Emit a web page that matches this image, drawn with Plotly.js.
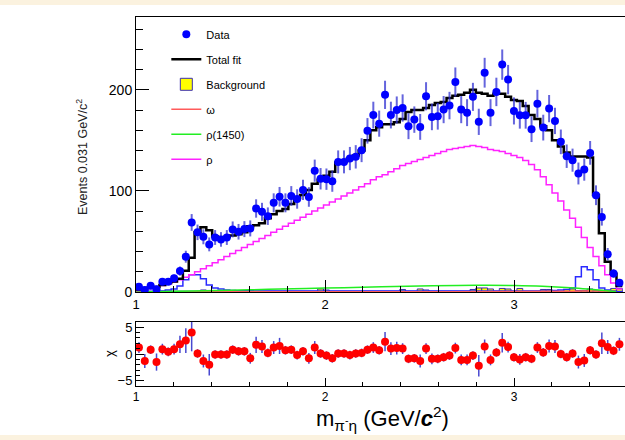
<!DOCTYPE html>
<html>
<head>
<meta charset="utf-8">
<script src="https://cdn.plot.ly/plotly-3.0.1.min.js"></script>
<style>html,body{margin:0;padding:0;background:#fff;}#chart{width:625px;height:440px;}</style>
</head>
<body>
<div id="chart"></div>
<script>
// Binning of the pi- eta mass histogram (GeV/c^2)
const binLow = 1.0;
const binWidth = 0.031;

// Data (events per bin)
const dataVals = [5.3, 2, 6.3, 2.6, 10.2, 10.2, 13.5, 20.7, 34.9, 68.8,
  59, 54.6, 47.1, 53.9, 52, 53.9, 61.9, 59.6, 62.2, 62.9,
  82.6, 79.3, 75, 88.2, 94.2, 88.2, 95, 92, 101, 94,
  120, 112, 111.6, 109.6, 128.7, 128.7, 132, 133.7, 140.3, 159.4,
  175, 166.5, 195, 175, 180, 182, 164, 170.5, 163.3, 193.6,
  173.2, 173.8, 180.4, 184.4, 207.7, 180.4, 177.4, 193, 168.3, 216.9,
  177.4, 197.9, 224.9, 210.1, 179.1, 174.8, 174.8, 161, 186.3, 162.6,
  181.4, 169.2, 148.5, 134.3, 130.4, 117.2, 121.1, 137.6, 95.7, 74.3,
  37.4, 18.3, 9.1];

// Total fit
const fitVals = [2.5, 4, 4.5, 5, 7, 9, 10.5, 13, 21, 34,
  59, 64, 61, 55, 53, 54.5, 56, 57, 59, 65,
  66, 68, 73, 77, 80, 82, 87, 93, 96, 101,
  107, 111, 115, 119, 128, 129, 132, 135, 140, 150,
  160, 163, 166, 166, 168, 171, 178, 180, 180, 182,
  185, 187, 188, 192, 194, 195, 197, 200, 197, 196,
  194, 196, 196, 193, 190, 189, 184, 175, 171, 164,
  160, 150, 144, 138, 134, 134, 134, 133, 96, 58,
  30, 18, 6];

// rho component
const rhoVals = [1.5, 2.5, 3.5, 5, 6.5, 8, 10, 12, 14.5, 17,
  20, 23, 26, 29, 32, 35, 38, 41, 44, 47,
  50, 53, 56, 59, 62, 65, 68, 71, 74, 77,
  80, 83, 86, 89, 92, 95, 98, 101, 104, 107,
  111, 114, 116, 119, 122, 125, 127, 129, 131, 133,
  135, 137, 139, 141, 142, 143, 144, 145, 144, 143,
  141, 140, 139, 137, 135, 133, 130, 126, 121, 114,
  106, 98, 90, 81, 73, 64, 54, 44, 35, 26,
  17, 9, 3];

// additional (blue) component, not in legend
const blueVals = [0.5, 0.5, 0.5, 0.8, 1, 2, 3, 6, 12, 17,
  17, 13, 7, 4, 3, 2, 1.5, 1.2, 1.2, 1.2,
  1.1, 1.1, 1.1, 1.1, 1, 1, 1, 1, 1, 1,
  1, 1, 1, 1, 1, 1, 1, 1, 1, 1,
  1, 1, 1, 1, 1, 1, 1, 1, 1, 1,
  1, 1, 1, 1, 1, 1, 1, 1, 1, 1,
  1, 1, 1, 1, 1, 1, 1, 1, 1, 1,
  1, 1.5, 2, 2.5, 4, 15, 25, 22, 12, 4,
  2, 1, 0.5];

// Background
const bkgVals = [0.8, 0.8, 0.8, 0.8, 0.8, 0.8, 0.8, 0.8, 0.8, 0.8,
  0.8, 2, 0.8, 0.8, 0.8, 0.8, 0.8, 0.8, 0.8, 0.8,
  0.8, 0.8, 0.8, 0.8, 0.8, 0.8, 0.8, 0.8, 0.8, 0.8,
  0.8, 3, 2, 0.8, 0.8, 0.8, 0.8, 0.8, 0.8, 0.8,
  0.8, 0.8, 0.8, 0.8, 0.8, 2.5, 0.8, 0.8, 3, 2,
  0.8, 0.8, 0.8, 0.8, 0.8, 0.8, 0.8, 2.5, 4, 4,
  3, 0.8, 3.5, 3, 0.8, 3.5, 0.8, 0.8, 0.8, 2.5,
  2.5, 0.8, 0.8, 2.5, 3, 1.5, 1.5, 3, 1.5, 1.5,
  1.5, 3.5, 3.5];

// rho(1450) curve (read points)
const rho1450X = [1.0, 1.15, 1.3, 1.5, 1.7, 1.9, 2.1, 2.3, 2.5, 2.7, 2.85, 3.0, 3.15, 3.3, 3.4, 3.48, 3.54];
const rho1450Y = [0.1, 0.5, 1.0, 1.8, 2.6, 3.4, 4.3, 5.1, 5.9, 6.5, 6.7, 6.5, 5.8, 4.3, 2.8, 1.4, 0.3];

// omega curve (read points)
const omegaX = [1.0, 1.5, 2.0, 2.5, 3.0, 3.3, 3.45, 3.54];
const omegaY = [0.2, 0.2, 0.3, 0.3, 0.4, 0.7, 1.0, 0.4];

// pull (chi) values and their error bars
const chiVals = [1.2, -1.3, 0.8, -1.5, 0.9, 0.4, 0.9, 1.8, 2.5, 4.0,
  0.1, -1.3, -2.0, -0.1, -0.1, -0.1, 0.8, 0.5, 0.5, -0.8,
  1.7, 1.4, 0.2, 1.2, 1.5, 0.7, 0.8, -0.2, 0.5, -0.8,
  1.2, 0.1, -0.3, -0.8, 0.1, 0.1, -0.2, 0.1, 0.2, 0.8,
  1.2, 0.7, 2.3, 1.0, 1.1, 1.0, -0.9, -0.8, -1.3, 1.0,
  -0.9, -0.9, -0.6, -0.3, 1.1, -1.1, -1.1, -0.3, -2.2, 1.4,
  -1.1, 0.3, 2.1, 1.3, -0.6, -1.0, -0.6, -0.9, 1.2, 0.3,
  1.5, 1.4, 0.0, -0.6, 0.1, -1.5, -1.2, 0.7, -0.1, 2.0,
  1.3, 0.6, 1.8];
const chiErr = [1.0, 1.3, 0.8, 1.6, 1.0, 0.8, 1.0, 1.6, 2.3, 3.5,
  0.8, 1.2, 2.0, 0.8, 0.8, 0.8, 0.8, 0.8, 0.8, 1.0,
  1.5, 1.2, 0.8, 1.2, 1.5, 0.8, 0.8, 0.8, 0.8, 1.0,
  1.2, 0.8, 0.8, 0.8, 0.8, 0.8, 0.8, 0.8, 0.8, 0.8,
  1.0, 0.8, 1.8, 1.2, 1.2, 1.0, 0.8, 0.8, 1.2, 1.0,
  1.0, 0.8, 0.8, 0.8, 1.0, 1.0, 1.0, 0.8, 2.0, 1.3,
  1.0, 0.8, 1.8, 1.0, 0.8, 1.0, 0.8, 0.8, 1.0, 0.8,
  1.2, 1.2, 0.8, 0.8, 0.8, 1.2, 1.2, 0.8, 0.8, 2.0,
  1.3, 0.8, 1.2];

const xTickVals = [1, 2, 3];
const xTickText = ['1', '2', '3'];

// bin geometry
const nBins = dataVals.length;
const centers = dataVals.map((_, i) => binLow + binWidth * (i + 0.5));
const edges = [];
for (let i = 0; i <= nBins; i++) edges.push(binLow + binWidth * i);
const stepY = v => v.concat([v[v.length - 1]]);

const FONT = 'Liberation Sans, Arial, Helvetica, sans-serif';

const traces = [
  {x: centers, y: bkgVals, type: 'bar', width: binWidth, marker: {color: '#ffff00', line: {color: '#3b2fb0', width: 1}},
   name: 'Background', legendgroup: 'g3', legendrank: 3, xaxis: 'x', yaxis: 'y'},
  {x: edges, y: stepY(blueVals), type: 'scatter', mode: 'lines', line: {shape: 'hv', color: '#2a2aff', width: 1.5},
   showlegend: false, xaxis: 'x', yaxis: 'y'},
  {x: omegaX, y: omegaY, type: 'scatter', mode: 'lines', line: {color: '#ff5a5a', width: 1.5, shape: 'spline'},
   name: 'ω', legendgroup: 'g4', legendrank: 4, xaxis: 'x', yaxis: 'y'},
  {x: rho1450X, y: rho1450Y, type: 'scatter', mode: 'lines', line: {color: '#22ee22', width: 1.5, shape: 'spline'},
   name: 'ρ(1450)', legendgroup: 'g5', legendrank: 5, xaxis: 'x', yaxis: 'y'},
  {x: edges, y: stepY(rhoVals), type: 'scatter', mode: 'lines', line: {shape: 'hv', color: '#ff22ff', width: 1.5},
   name: 'ρ', legendgroup: 'g6', legendrank: 6, xaxis: 'x', yaxis: 'y'},
  {x: edges, y: stepY(fitVals), type: 'scatter', mode: 'lines', line: {shape: 'hv', color: '#000000', width: 2.5},
   name: 'Total fit', legendgroup: 'g2', legendrank: 2, xaxis: 'x', yaxis: 'y'},
  {x: centers, y: dataVals, type: 'scatter', mode: 'markers', marker: {color: '#0000ff', size: 8},
   error_y: {type: 'sqrt', color: 'rgba(50,50,210,0.75)', thickness: 2, width: 0},
   name: 'Data', legendgroup: 'g1', legendrank: 1, xaxis: 'x', yaxis: 'y'},
  {x: centers, y: chiVals, type: 'scatter', mode: 'markers', marker: {color: '#ff0000', size: 8},
   error_y: {type: 'data', array: chiErr, color: 'rgba(40,40,200,0.85)', thickness: 1.5, width: 0},
   showlegend: false, xaxis: 'x2', yaxis: 'y2'}
];

const axisCommon = {showline: true, linecolor: '#000', linewidth: 1, showgrid: false, zeroline: false,
  ticks: 'inside', tickcolor: '#000', tickfont: {family: FONT, size: 13, color: '#000'}};

const layout = {
  width: 625, height: 440,
  margin: {l: 136, r: 0, t: 0, b: 0},
  paper_bgcolor: '#ffffff', plot_bgcolor: '#ffffff',
  showlegend: true, bargap: 0,
  legend: {x: 0.062, y: 0.955, xanchor: 'left', yanchor: 'top', bgcolor: 'rgba(0,0,0,0)',
    font: {family: FONT, size: 11, color: '#000'}, tracegroupgap: 6, itemwidth: 30, traceorder: 'grouped'},
  xaxis: Object.assign({}, axisCommon, {domain: [0, 1], range: [1, 3.587], anchor: 'y', mirror: true,
    tickvals: xTickVals, ticktext: xTickText, ticklen: 12, minor: {ticks: 'inside', dtick: 0.2, tick0: 1, ticklen: 6, tickcolor: '#000'}}),
  yaxis: Object.assign({}, axisCommon, {domain: [148/440, 423/440], range: [0, 272], anchor: 'x',
    dtick: 100, tick0: 0, ticklen: 13, tickfont: {family: FONT, size: 14, color: '#000'},
    minor: {ticks: 'inside', dtick: 20, ticklen: 7, tickcolor: '#000'}}),
  xaxis2: Object.assign({}, axisCommon, {domain: [0, 1], range: [1, 3.587], anchor: 'y2', mirror: true,
    tickvals: xTickVals, ticktext: xTickText, ticklen: 8, tickfont: {family: FONT, size: 12, color: '#000'},
    minor: {ticks: 'inside', dtick: 0.2, tick0: 1, ticklen: 4, tickcolor: '#000'}}),
  yaxis2: Object.assign({}, axisCommon, {domain: [54/440, 118/440], range: [-5.95, 5.95], anchor: 'x2',
    tickvals: [-5, 0, 5], ticklen: 8, tickfont: {family: FONT, size: 13, color: '#000'},
    minor: {ticks: 'inside', dtick: 1, ticklen: 4, tickcolor: '#000'}}),
  annotations: [
    {text: 'Events 0.031 GeV/c<sup>2</sup>', xref: 'paper', yref: 'paper', x: (82 - 136) / 489, y: 1 - 157 / 440,
     xanchor: 'center', yanchor: 'middle',
     textangle: -90, showarrow: false, font: {family: FONT, size: 12.5, color: '#222'}},
    {text: 'χ', xref: 'paper', yref: 'paper', x: (109 - 136) / 489, y: 1 - 354 / 440,
     xanchor: 'center', yanchor: 'middle',
     textangle: -90, showarrow: false, font: {family: FONT, size: 13, color: '#000'}},
    {text: 'm<sub>π<sup>-</sup>η</sub> (GeV/<b><i>c</i></b><sup>2</sup>)', xref: 'paper', yref: 'paper',
     xanchor: 'center', yanchor: 'middle',
     x: (382 - 136) / 489, y: 1 - 418 / 440, showarrow: false, font: {family: FONT, size: 22, color: '#000'}}
  ],
  shapes: [
    {type: 'rect', xref: 'paper', yref: 'paper', x0: -0.3, x1: 1.01, y0: 1 - 5 / 440, y1: 1.01, fillcolor: '#fbf2df', line: {width: 0}, layer: 'above'},
    {type: 'rect', xref: 'paper', yref: 'paper', x0: -0.3, x1: 1.01, y0: -0.01, y1: 5 / 440, fillcolor: '#fbf2df', line: {width: 0}, layer: 'above'}
  ]
};

Plotly.newPlot('chart', traces, layout, {displayModeBar: false, staticPlot: true});
</script>
</body>
</html>
